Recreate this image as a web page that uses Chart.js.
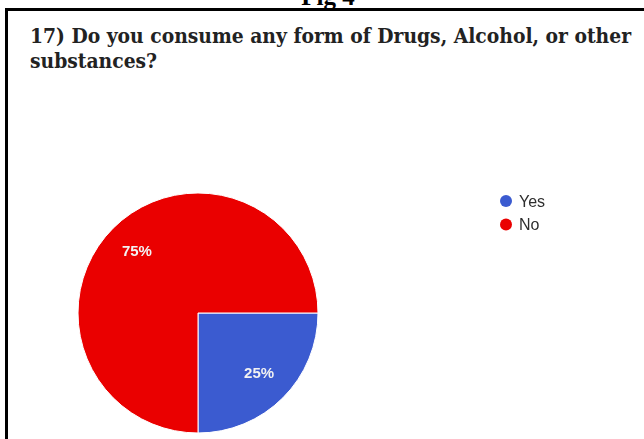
<!DOCTYPE html>
<html>
<head>
<meta charset="utf-8">
<script src="https://cdn.jsdelivr.net/npm/chart.js@4.4.1/dist/chart.umd.min.js"></script>
<style>
  html, body { margin: 0; padding: 0; background: #fff; }
  body { width: 644px; height: 439px; overflow: hidden; position: relative; }
  #frame {
    position: absolute; left: 5px; top: 8px; width: 700px; height: 500px;
    border-left: 3px solid #000; border-top: 3px solid #000;
  }
  #fig {
    position: absolute; left: 0; width: 656px; top: -16px; text-align: center;
    font: bold 25px "Liberation Serif", serif; line-height: 25px; color: #000;
  }
  .title-line {
    position: absolute; left: 30px; white-space: nowrap; transform-origin: 0 0;
    font: bold 20.5px "DejaVu Serif", serif; line-height: 20px; color: #222;
  }
  #chart { position: absolute; left: 0; top: 0; }
</style>
</head>
<body>
<div id="fig">Fig 4</div>
<div id="frame"></div>
<div class="title-line" id="t1" style="top:25.5px">17) Do you consume any form of Drugs, Alcohol, or other</div>
<div class="title-line" id="t2" style="top:51px">substances?</div>
<canvas id="chart" width="644" height="439"></canvas>
<script>
// Survey question 17: share of respondents by answer
const categories = ['Yes', 'No'];
const shares = [25, 75];

// Fit the heading's first line to its column width and use the same scale for the second
(function fitTitle() {
  const l1 = document.getElementById('t1');
  const l2 = document.getElementById('t2');
  const target = 601;
  const s = target / l1.getBoundingClientRect().width;
  l1.style.transform = 'scaleX(' + s + ')';
  l2.style.transform = 'scaleX(' + s + ')';
})();

// Percentage text inside each slice, placed along the slice's middle angle
const sliceLabels = {
  id: 'sliceLabels',
  afterDatasetsDraw(chart) {
    const ctx = chart.ctx;
    const meta = chart.getDatasetMeta(0);
    ctx.save();
    ctx.font = 'bold 15px "Liberation Sans", Arial, sans-serif';
    ctx.fillStyle = '#f2f2f2';
    ctx.textAlign = 'center';
    ctx.textBaseline = 'middle';
    meta.data.forEach((arc, i) => {
      const p = arc.getProps(['x', 'y', 'startAngle', 'endAngle', 'outerRadius'], true);
      const mid = (p.startAngle + p.endAngle) / 2;
      const r = p.outerRadius * 0.72;
      ctx.fillText(chart.data.datasets[0].data[i] + '%', p.x + Math.cos(mid) * r, p.y + Math.sin(mid) * r);
    });
    ctx.restore();
  }
};

// Legend with round markers, set to the right of the pie
const sideLegend = {
  id: 'sideLegend',
  afterDraw(chart) {
    const ctx = chart.ctx;
    const ds = chart.data.datasets[0];
    const x0 = 506, y0 = 201, step = 23.5;
    ctx.save();
    ctx.font = '16px "Liberation Sans", Arial, sans-serif';
    ctx.textBaseline = 'middle';
    ctx.textAlign = 'left';
    chart.data.labels.forEach((lab, i) => {
      const y = y0 + i * step;
      ctx.beginPath();
      ctx.arc(x0, y, 6, 0, Math.PI * 2);
      ctx.fillStyle = ds.backgroundColor[i];
      ctx.fill();
      ctx.fillStyle = '#2e2e2e';
      ctx.fillText(lab, 519, y + 1.5);
    });
    ctx.restore();
  }
};

new Chart(document.getElementById('chart'), {
  type: 'pie',
  data: {
    labels: categories,
    datasets: [{
      data: shares,
      backgroundColor: ['#3b5bd0', '#ea0000'],
      borderColor: '#ffffff',
      borderWidth: 1,
      hoverOffset: 0
    }]
  },
  options: {
    responsive: false,
    animation: false,
    rotation: 90,
    radius: 120,
    layout: { padding: { left: 78, top: 193, right: 326, bottom: 6 } },
    plugins: {
      legend: { display: false },
      title: { display: false },
      tooltip: { enabled: false }
    }
  },
  plugins: [sliceLabels, sideLegend]
});
</script>
</body>
</html>
